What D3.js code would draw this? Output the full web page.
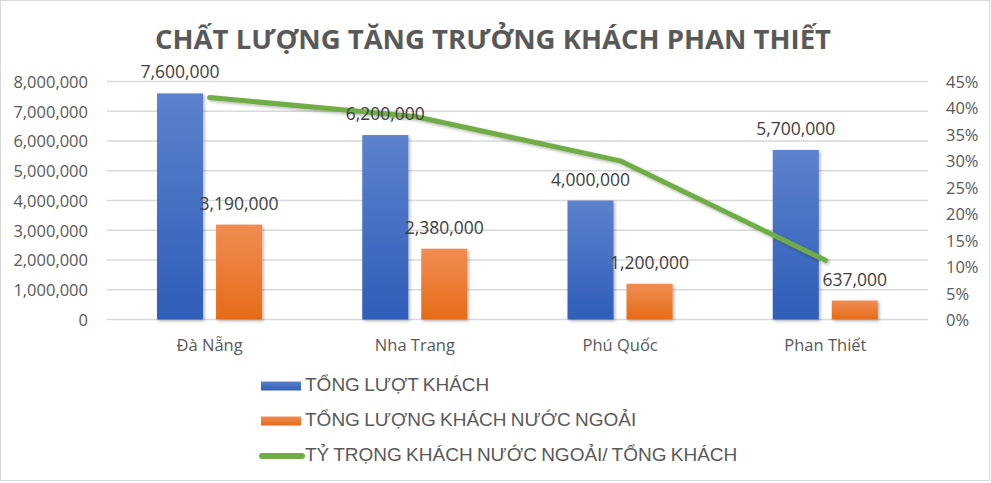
<!DOCTYPE html>
<html>
<head>
<meta charset="utf-8">
<script src="https://cdn.jsdelivr.net/npm/d3@7"></script>
<style>
  body { margin: 0; background: #fff; }
  svg { display: block; }
  text { fill: #595959; }
</style>
</head>
<body>
<svg id="chart" width="991" height="483"></svg>
<script>
// data
var categories = ['Đà Nẵng', 'Nha Trang', 'Phú Quốc', 'Phan Thiết'];
var totalGuests = [7600000, 6200000, 4000000, 5700000];
var foreignGuests = [3190000, 2380000, 1200000, 637000];
var foreignShare = [0.4197, 0.3839, 0.30, 0.1118];
var leftTicks = [0, 1000000, 2000000, 3000000, 4000000, 5000000, 6000000, 7000000, 8000000];
var rightTicks = [0, 0.05, 0.10, 0.15, 0.20, 0.25, 0.30, 0.35, 0.40, 0.45];
var seriesNames = ['TỔNG LƯỢT KHÁCH', 'TỔNG LƯỢNG KHÁCH NƯỚC NGOẢI', 'TỶ TRỌNG KHÁCH NƯỚC NGOẢI/ TỔNG KHÁCH'];
var title = 'CHẤT LƯỢNG TĂNG TRƯỞNG KHÁCH PHAN THIẾT';

(function () {
var svg = d3.select('#chart');
var plotLeft = 107, plotRight = 928, plotTop = 81.5, plotBottom = 319.5;
var font = "'Open Sans', sans-serif";

// outer border
svg.append('rect')
  .attr('x', 0.5).attr('y', 0.5)
  .attr('width', 989).attr('height', 480)
  .attr('fill', '#fff')
  .attr('stroke', '#d9d9d9');

var defs = svg.append('defs');

var grad = function (id, c1, c2) {
  var g = defs.append('linearGradient')
    .attr('id', id)
    .attr('x1', 0).attr('y1', 0).attr('x2', 0).attr('y2', 1);
  g.append('stop').attr('offset', '0%').attr('stop-color', c1);
  g.append('stop').attr('offset', '100%').attr('stop-color', c2);
};
grad('gBlue', '#5d82cd', '#2f5db9');
grad('gOrange', '#f08d52', '#e66b18');

var shadow = defs.append('filter')
  .attr('id', 'shadow')
  .attr('x', '-30%').attr('y', '-30%')
  .attr('width', '160%').attr('height', '160%');
shadow.append('feDropShadow')
  .attr('dx', 1.5).attr('dy', 1.5)
  .attr('stdDeviation', 1.5)
  .attr('flood-color', '#000')
  .attr('flood-opacity', 0.3);

// scales
var x = d3.scaleBand()
  .domain(categories)
  .range([plotLeft, plotRight])
  .padding(0);

var x1 = d3.scaleBand()
  .domain([0, 1])
  .range([x.bandwidth() * 0.2437, x.bandwidth() * 0.7554])
  .paddingInner(0.22);

var y = d3.scaleLinear().domain([0, 8000000]).range([plotBottom, plotTop]);
var yR = d3.scaleLinear().domain([0, 0.45]).range([plotBottom, plotTop]);

// gridlines
svg.append('g')
  .selectAll('line')
  .data(leftTicks)
  .join('line')
  .attr('x1', plotLeft).attr('x2', plotRight)
  .attr('y1', function (d) { return y(d); })
  .attr('y2', function (d) { return y(d); })
  .attr('stroke', '#d9d9d9')
  .attr('stroke-width', 1.5);

// left axis
var fmt = d3.format(',');
var leftAxis = svg.append('g')
  .attr('transform', 'translate(' + (plotLeft - 19) + ',0)')
  .call(d3.axisLeft(y).tickValues(leftTicks).tickFormat(fmt).tickSize(0).tickPadding(0));
leftAxis.select('.domain').remove();
leftAxis.selectAll('text')
  .attr('font-family', font).attr('font-size', 16.5)
  .attr('fill', '#595959').attr('dy', '0.36em');

// right axis
var rightAxis = svg.append('g')
  .attr('transform', 'translate(' + 946 + ',0)')
  .call(d3.axisRight(yR).tickValues(rightTicks).tickFormat(d3.format('.0%')).tickSize(0).tickPadding(0));
rightAxis.select('.domain').remove();
rightAxis.selectAll('text')
  .attr('font-family', font).attr('font-size', 16.5)
  .attr('fill', '#595959').attr('dy', '0.36em');

// category axis
var catAxis = svg.append('g')
  .attr('transform', 'translate(0,' + plotBottom + ')')
  .call(d3.axisBottom(x).tickSize(0).tickPadding(0));
catAxis.select('.domain').remove();
catAxis.selectAll('text')
  .attr('font-family', font).attr('font-size', 16.5)
  .attr('fill', '#595959').attr('dy', 0).attr('y', 31);

// bars
var series = [totalGuests, foreignGuests];
var fills = ['url(#gBlue)', 'url(#gOrange)'];

series.forEach(function (vals, s) {
  svg.append('g')
    .selectAll('rect')
    .data(vals)
    .join('rect')
    .attr('x', function (d, i) { return x(categories[i]) + x1(s); })
    .attr('y', function (d) { return y(d); })
    .attr('width', x1.bandwidth())
    .attr('height', function (d) { return plotBottom - y(d); })
    .attr('fill', fills[s])
    .attr('filter', 'url(#shadow)');
});

// share line
var line = d3.line()
  .x(function (d, i) { return x(categories[i]) + x.bandwidth() / 2; })
  .y(function (d) { return yR(d); });

svg.append('path')
  .datum(foreignShare)
  .attr('d', line)
  .attr('fill', 'none')
  .attr('stroke', '#70ad47')
  .attr('stroke-width', 5)
  .attr('stroke-linecap', 'round')
  .attr('stroke-linejoin', 'round')
  .attr('filter', 'url(#shadow)');

// data labels
series.forEach(function (vals, s) {
  svg.append('g')
    .selectAll('text')
    .data(vals)
    .join('text')
    .attr('x', function (d, i) { return x(categories[i]) + x1(s) + x1.bandwidth() / 2; })
    .attr('y', function (d) { return y(d) - 15; })
    .attr('text-anchor', 'middle')
    .attr('font-family', font).attr('font-size', 17.5)
    .style('fill', '#404040')
    .text(function (d) { return fmt(d); });
});

// title
svg.append('text')
  .attr('x', 493).attr('y', 48.5)
  .attr('text-anchor', 'middle')
  .attr('font-family', font)
  .attr('font-weight', 'bold')
  .attr('font-size', 27)
  .attr('textLength', 676)
  .attr('lengthAdjust', 'spacingAndGlyphs')
  .text(title);

// legend
var legend = svg.append('g').attr('transform', 'translate(261,386)');
var item = legend.selectAll('g')
  .data(seriesNames)
  .join('g')
  .attr('transform', function (d, i) { return 'translate(0,' + (i * 35) + ')'; });

item.each(function (d, i) {
  var g = d3.select(this);
  if (i < 2) {
    g.append('rect')
      .attr('x', 0).attr('y', -4.5)
      .attr('width', 40).attr('height', 9)
      .attr('fill', fills[i]);
  } else {
    g.append('line')
      .attr('x1', 1).attr('x2', 41)
      .attr('y1', 0).attr('y2', 0)
      .attr('stroke', '#70ad47')
      .attr('stroke-width', 6)
      .attr('stroke-linecap', 'round');
  }
  g.append('text')
    .attr('x', 44).attr('y', 4.7)
    .attr('font-family', "'Liberation Sans', Arial, sans-serif")
    .attr('font-size', 19)
    .attr('word-spacing', -1)
    .text(d);
});
})();
</script>
</body>
</html>
